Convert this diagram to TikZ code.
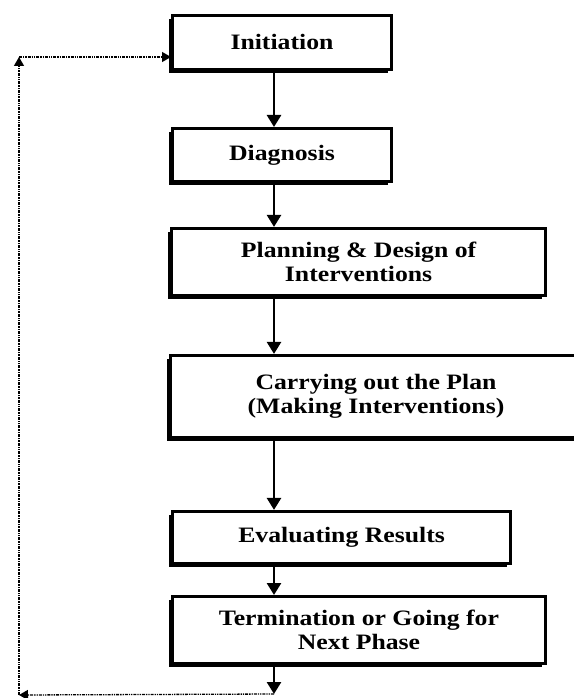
\documentclass[tikz,border=0pt]{standalone}
\usepackage{fontspec}
\newfontfamily\boxfont{Liberation Serif}[FakeStretch=1.17]
\usetikzlibrary{arrows.meta,shadows}

\tikzset{
    box/.style={draw, fill=white, line width=3pt, inner sep=0pt, align=center,
        font=\boxfont\bfseries\fontsize{22}{23.5}\selectfont,
        drop shadow={opacity=1, fill=black, shadow xshift=-3.5pt, shadow yshift=-3.5pt}},
    flow/.style={line width=2.6pt, -{Triangle[width=14pt,length=12pt]}},
    back/.style={line width=1.3pt, densely dash dot dot, -{Triangle[width=10pt,length=9pt]}}
}

\begin{document}
\begin{tikzpicture}[x=1pt, y=-1pt]
        \useasboundingbox (0,0) rectangle (573,698);

        % 各个阶段
        \node[box, minimum width=219pt, minimum height=54pt] (init) at (282,42.4) {Initiation};
        \node[box, minimum width=219pt, minimum height=53pt] (diag) at (282,155) {Diagnosis};
        \node[box, minimum width=374pt, minimum height=67pt] (plan) at (358.6,261.9) {Planning \& Design of\\Interventions};
        \node[box, minimum width=411pt, minimum height=82pt] (carry) at (376,396.4) {Carrying out the Plan\\(Making Interventions)};
        \node[box, minimum width=338pt, minimum height=52pt] (eval) at (341.6,537.4) {Evaluating Results};
        \node[box, minimum width=373pt, minimum height=67pt] (term) at (359,630) {Termination or Going for\\Next Phase};

        % 主流程箭头
        \coordinate (ax) at (274,0);
        \draw[flow] (init.south -| ax) -- (diag.north -| ax);
        \draw[flow] (diag.south -| ax) -- (plan.north -| ax);
        \draw[flow] (plan.south -| ax) -- (carry.north -| ax);
        \draw[flow] (carry.south -| ax) -- (eval.north -| ax);
        \draw[flow] (eval.south -| ax) -- (term.north -| ax);
        \coordinate (bot) at (274,694);
        \draw[flow] (term.south -| ax) -- (bot);

        % 返回虚线
        \coordinate (lb) at (19,695);
        \coordinate (lt) at (19,57);
        \draw[back] (bot) -- (lb);
        \draw[back] (lb) -- (lt);
        \draw[back] (lt) -- (lt -| init.west);
\end{tikzpicture}
\end{document}
